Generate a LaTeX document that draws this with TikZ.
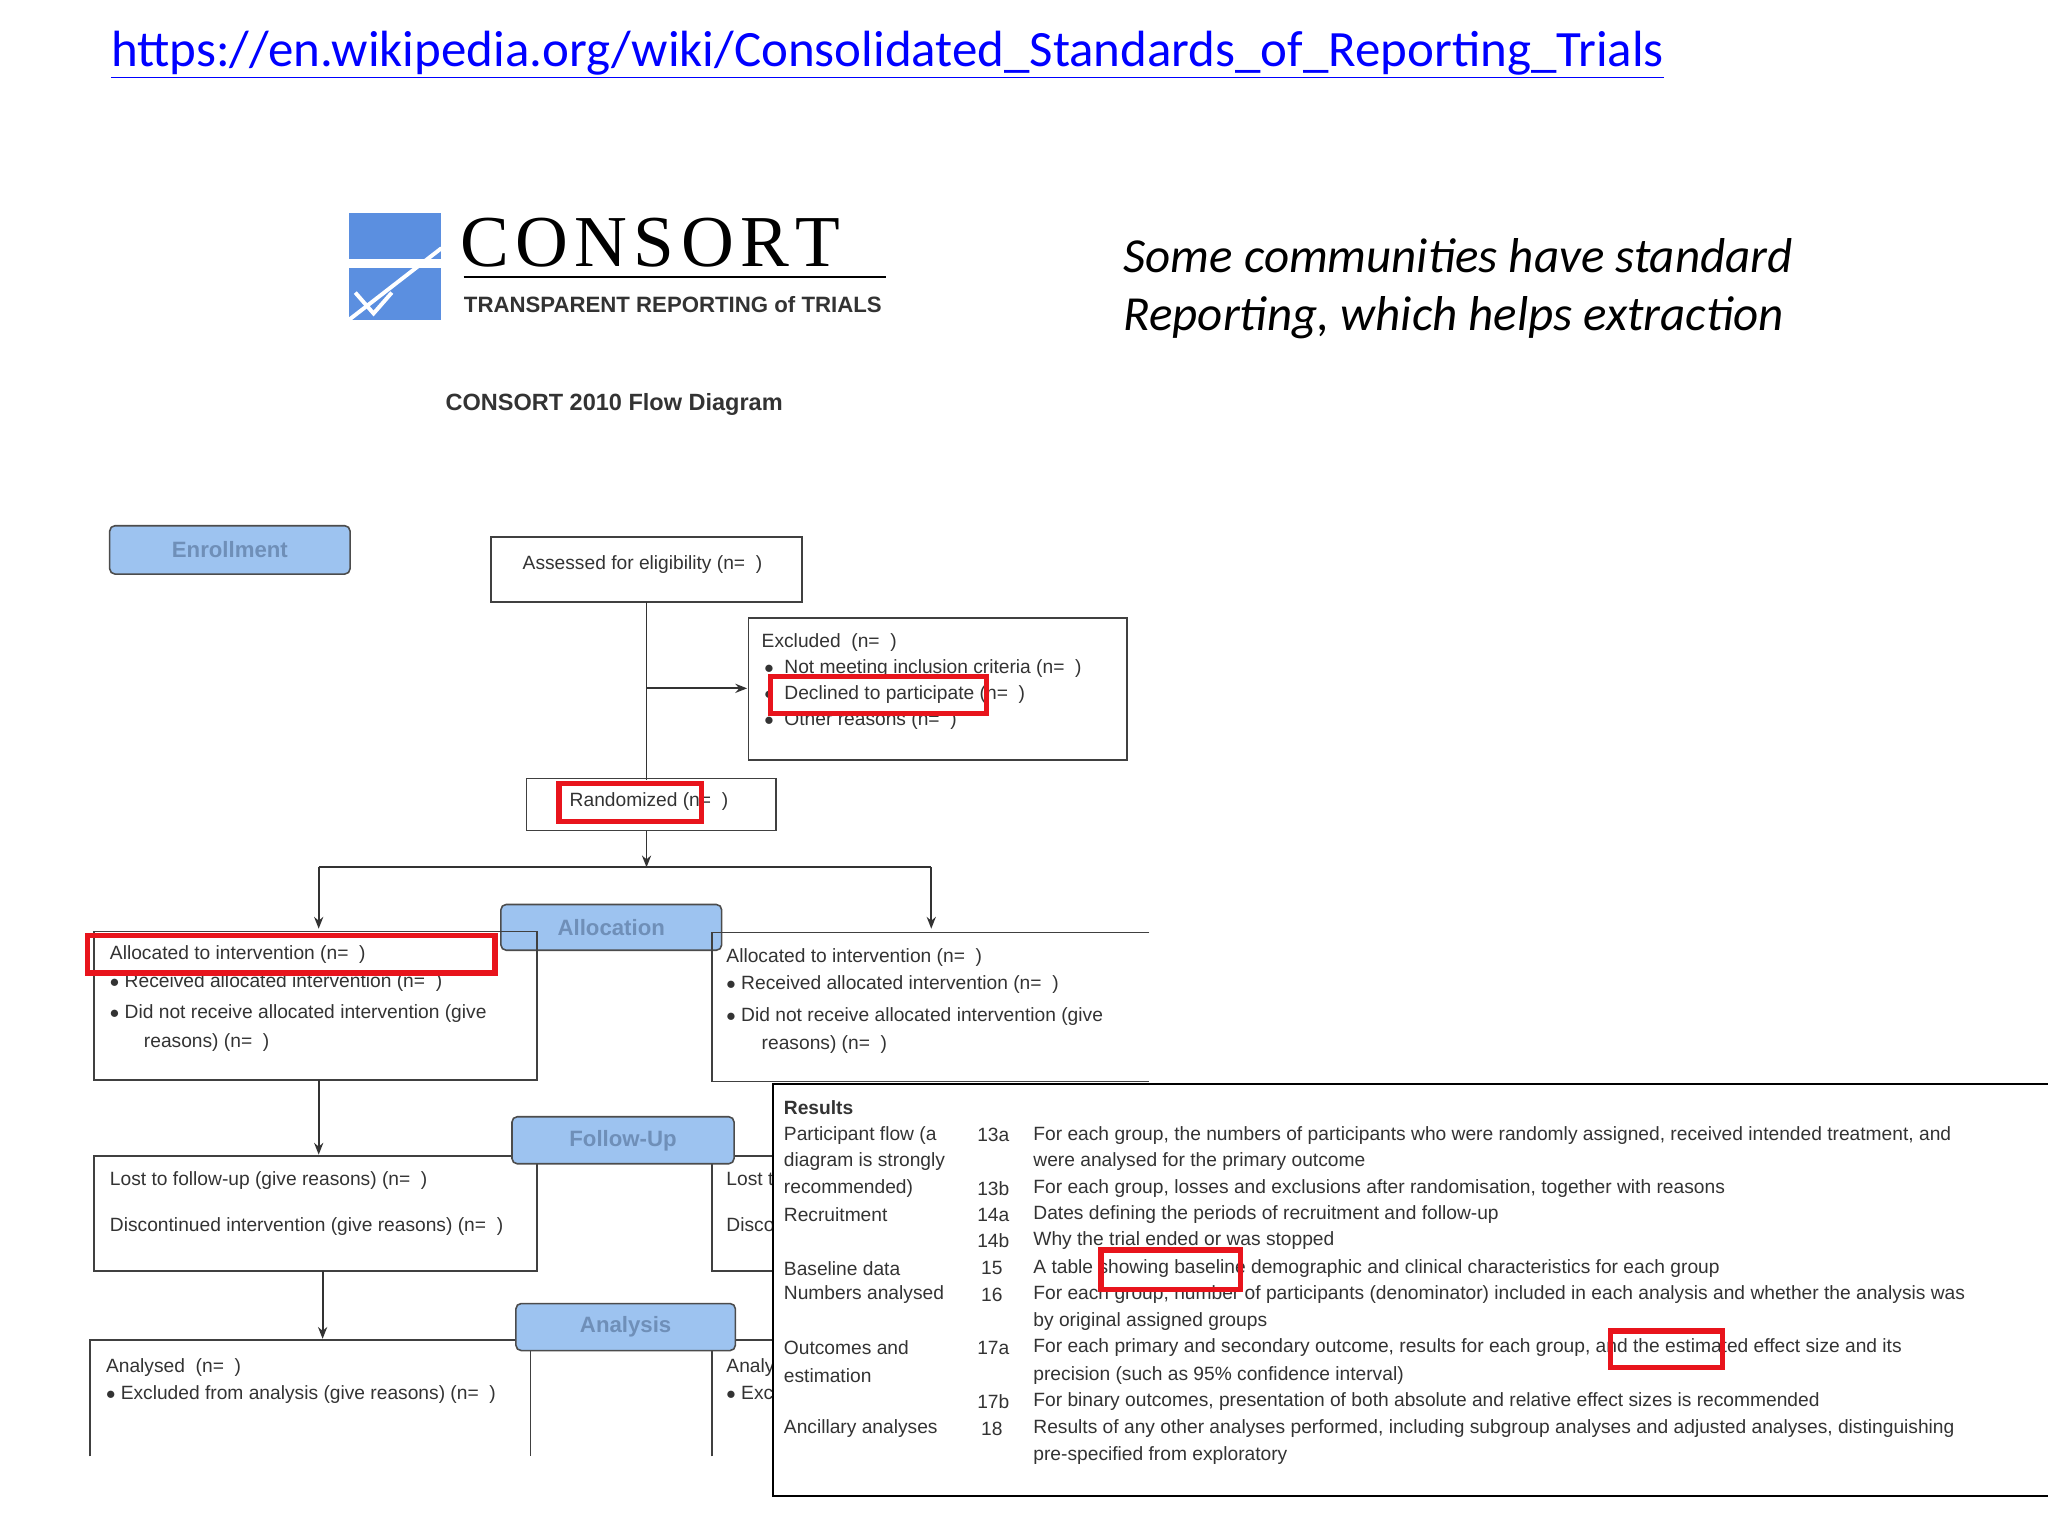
\documentclass[tikz,border=0pt]{standalone}
\usepackage{fontspec}
\setmainfont{Liberation Sans}
\newfontfamily\carlitofont{Carlito}
\newfontfamily\logofont{Liberation Serif}
\usetikzlibrary{arrows.meta}
\definecolor{lblue}{HTML}{9DC3F0}
\definecolor{lbtext}{HTML}{6F8FB8}
\definecolor{logob}{HTML}{5B8FE0}
\definecolor{redb}{HTML}{E8141C}
\definecolor{txt}{HTML}{333333}
\tikzset{
 box/.style={draw=black!75,line width=1.2pt},
 tag/.style={draw=black!70,fill=lblue,rounded corners=4pt,line width=1.2pt,text=lbtext,font=\fontsize{17}{19}\selectfont\bfseries},
 t/.style={anchor=west,inner sep=0,text=txt,font=\fontsize{14.7}{16}\selectfont},
 arr/.style={-{Stealth[length=9pt,width=7pt]},line width=1.4pt,draw=black!80},
 ln/.style={line width=1.4pt,draw=black!80},
 hl/.style={draw=redb,line width=4pt},
}
\begin{document}
\begin{tikzpicture}[x=1pt,y=-1pt]
\useasboundingbox (0,0) rectangle (1568,1176);
\fill[white] (0,0) rectangle (1568,1176);
% URL
\node[anchor=west,inner sep=0,text=blue,font=\carlitofont\fontsize{39}{42}\selectfont] (url) at (85,42) {\underline{https://en.wikipedia.org/wiki/Consolidated\_Standards\_of\_Reporting\_Trials}};
% logo
\fill[logob] (267,163) rectangle (338,198);
\fill[logob] (267,205) rectangle (338,245);
\draw[white,line width=3pt] (267,245) -- (338,190);
\draw[white,line width=3pt] (272,224) -- (286,240) -- (300,224);
\node[anchor=west,inner sep=0,font=\logofont\fontsize{56}{60}\selectfont] (consort) at (352,186) {C\hspace{5pt}O\hspace{5pt}N\hspace{5pt}S\hspace{5pt}O\hspace{5pt}R\hspace{5pt}T};
\draw[line width=1.5pt] (355,212) -- (678,212);
\node[anchor=west,inner sep=0,font=\fontsize{17}{19}\selectfont\bfseries,text=txt] (tr) at (355,233) {TRANSPARENT REPORTING of TRIALS};
\node[anchor=west,inner sep=0,font=\fontsize{18}{20}\selectfont\bfseries,text=txt] (fd) at (341,310) {CONSORT 2010 Flow Diagram};
\node[anchor=west,inner sep=0,font=\carlitofont\itshape\fontsize{37.5}{40}\selectfont] (s1) at (860,196) {Some communities have standard};
\node[anchor=west,inner sep=0,font=\carlitofont\itshape\fontsize{37.5}{40}\selectfont] (s2) at (860,243) {Reporting, which helps extraction};
% flow
\node[tag,minimum width=184pt,minimum height=37pt] (enr) at (176,421) {Enrollment};
\draw[box] (376,411) rectangle (614,461);
\node[t] (ass) at (400,432) {Assessed for eligibility (n=\ \ )};
\coordinate (a0) at (495,461);
\coordinate (a1) at (495,527);
\coordinate (a2) at (495,597);
\draw[ln] (a0) -- (a2);
\coordinate (ex) at (572,527);
\draw[arr] (a1) -- (ex);
\draw[box] (573,473) rectangle (863,582);
\node[t] (e1) at (583,492) {Excluded\ \ (n=\ \ )};
\node[t] (e2) at (585,512) {$\bullet$\ \ Not meeting inclusion criteria (n=\ \ )};
\node[t] (e3) at (585,532) {$\bullet$\ \ Declined to participate (n=\ \ )};
\node[t] (e4) at (585,552) {$\bullet$\ \ Other reasons (n=\ \ )};
\draw[box] (403,596) rectangle (594,636);
\node[t] (rnd) at (436,614) {Randomized (n=\ \ )};
\coordinate (r0) at (495,636);
\coordinate (r1) at (495,664);
\draw[arr] (r0) -- (r1);
\coordinate (hl) at (244,664);
\coordinate (hr) at (713,664);
\coordinate (dl) at (244,711);
\coordinate (dr) at (713,711);
\draw[ln] (hl) -- (hr);
\draw[arr] (hl) -- (dl);
\draw[arr] (hr) -- (dr);
\node[tag,minimum width=169pt,minimum height=35pt] (alloc) at (468,710) {Allocation};
\draw[box] (72,713) rectangle (411,827);
\node[t] (l1) at (84,731) {Allocated to intervention (n=\ \ )};
\node[t] (l2) at (84,752) {$\bullet$ Received allocated intervention (n=\ \ )};
\node[t] (l3) at (84,776) {$\bullet$ Did not receive allocated intervention (give};
\node[t] (l4) at (110,798) {reasons) (n=\ \ )};
\draw[box] (880,714) -- (545,714) -- (545,828) -- (880,828);
\node[t] (r1t) at (556,733) {Allocated to intervention (n=\ \ )};
\node[t] (r2t) at (556,754) {$\bullet$ Received allocated intervention (n=\ \ )};
\node[t] (r3t) at (556,778) {$\bullet$ Did not receive allocated intervention (give};
\node[t] (r4t) at (583,800) {reasons) (n=\ \ )};
\coordinate (f0) at (244,827);
\coordinate (f1) at (244,884);
\draw[arr] (f0) -- (f1);
\draw[box] (72,885) rectangle (411,973);
\node[t] (fl1) at (84,904) {Lost to follow-up (give reasons) (n=\ \ )};
\node[t] (fl2) at (84,939) {Discontinued intervention (give reasons) (n=\ \ )};
\draw[box] (700,885) -- (545,885) -- (545,973) -- (700,973);
\node[t] (fr1) at (556,904) {Lost to follow-up (give reasons) (n=\ \ )};
\node[t] (fr2) at (556,939) {Discontinued intervention (give reasons) (n=\ \ )};
\node[tag,minimum width=170pt,minimum height=36pt] (fu) at (477,873) {Follow-Up};
\coordinate (g0) at (247,973);
\coordinate (g1) at (247,1025);
\draw[arr] (g0) -- (g1);
\draw[box] (69,1115) -- (69,1026) -- (406,1026) -- (406,1115);
\node[t] (al1) at (81,1047) {Analysed\ \ (n=\ \ )};
\node[t] (al2) at (81,1068) {$\bullet$ Excluded from analysis (give reasons) (n=\ \ )};
\draw[box] (545,1115) -- (545,1026) -- (700,1026);
\node[t] (ar1) at (556,1047) {Analysed\ \ (n=\ \ )};
\node[t] (ar2) at (556,1068) {$\bullet$ Excluded from analysis (give reasons) (n=\ \ )};
\node[tag,minimum width=168pt,minimum height=36pt] (an) at (479,1016) {Analysis};
% results panel
\draw[fill=white,line width=1.5pt] (592,830) rectangle (1580,1145);
\begin{scope}[every node/.style={t}]
\node[font=\fontsize{14.7}{16}\selectfont\bfseries] (res) at (600,848) {Results};
\node (c1) at (600,869) {Participant flow (a};
\node (c2) at (600,889) {diagram is strongly};
\node (c3) at (600,910) {recommended)};
\node (c4) at (600,930) {Recruitment};
\node (c5) at (600,971) {Baseline data};
\node (c6) at (600,991) {Numbers analysed};
\node (c7) at (600,1032) {Outcomes and};
\node (c8) at (600,1053) {estimation};
\node (c9) at (600,1094) {Ancillary analyses};
\node (n1) at (748,869) {13a};
\node (n2) at (748,910) {13b};
\node (n3) at (748,930) {14a};
\node (n4) at (748,950) {14b};
\node (n5) at (751,971) {15};
\node (n6) at (751,991) {16};
\node (n7) at (748,1032) {17a};
\node (n8) at (748,1073) {17b};
\node (n9) at (751,1094) {18};
\node (d1) at (791,869) {For each group, the numbers of participants who were randomly assigned, received intended treatment, and};
\node (d2) at (791,889) {were analysed for the primary outcome};
\node (d3) at (791,910) {For each group, losses and exclusions after randomisation, together with reasons};
\node (d4) at (791,930) {Dates defining the periods of recruitment and follow-up};
\node (d5) at (791,950) {Why the trial ended or was stopped};
\node (d6) at (791,971) {A table showing baseline demographic and clinical characteristics for each group};
\node (d7) at (791,991) {For each group, number of participants (denominator) included in each analysis and whether the analysis was};
\node (d8) at (791,1012) {by original assigned groups};
\node (d9) at (791,1032) {For each primary and secondary outcome, results for each group, and the estimated effect size and its};
\node (d10) at (791,1053) {precision (such as 95\% confidence interval)};
\node (d11) at (791,1073) {For binary outcomes, presentation of both absolute and relative effect sizes is recommended};
\node (d12) at (791,1094) {Results of any other analyses performed, including subgroup analyses and adjusted analyses, distinguishing};
\node (d13) at (791,1114) {pre-specified from exploratory};
\end{scope}
% red highlights
\draw[hl] (67,716) rectangle (379,745);
\draw[hl] (590,518) rectangle (755,546);
\draw[hl] (428,600) rectangle (537,629);
\draw[hl] (843,957) rectangle (950,987);
\draw[hl] (1233,1019) rectangle (1319,1047);
\end{tikzpicture}
\end{document}
